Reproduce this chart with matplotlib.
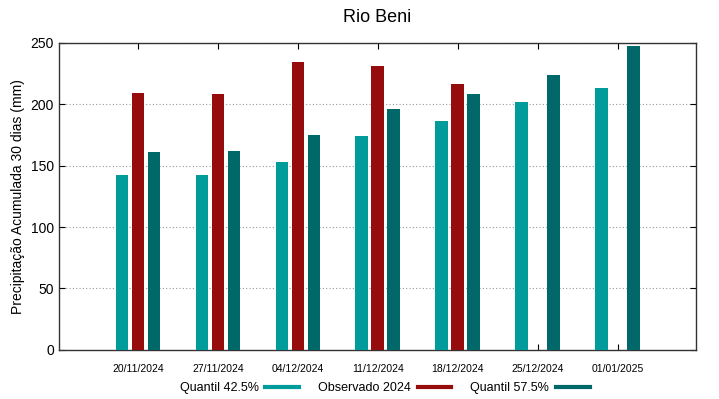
import numpy as np
import matplotlib
matplotlib.use('Agg')
import matplotlib.pyplot as plt
from matplotlib.lines import Line2D

plt.rcParams['font.family'] = ['Liberation Sans', 'DejaVu Sans']

# data
datas = ['20/11/2024', '27/11/2024', '04/12/2024', '11/12/2024',
         '18/12/2024', '25/12/2024', '01/01/2025']
q425 = [142, 142, 153, 174, 186, 202, 213]
obs2024 = [209, 208, 234, 231, 216, np.nan, np.nan]
q575 = [161, 162, 175, 196, 208, 224, 247]

c_q425 = '#009b9b'
c_obs = '#960c0c'
c_q575 = '#006868'

fig = plt.figure(figsize=(7.19, 3.99), dpi=100)
ax = fig.add_axes([0.082, 0.123, 0.886, 0.770])

x = np.arange(len(datas))
w = 0.16
ax.bar(x - 0.2, q425, w, color=c_q425, zorder=3)
ax.bar(x, obs2024, w, color=c_obs, zorder=3)
ax.bar(x + 0.2, q575, w, color=c_q575, zorder=3)

ax.set_xlim(-0.99, 6.98)
ax.set_ylim(0, 250)
ax.set_yticks([0, 50, 100, 150, 200, 250])
ax.set_xticks(x)
ax.set_xticklabels(datas, fontsize=7.5)
ax.tick_params(axis='y', labelsize=10, direction='in', right=True, length=4)
ax.tick_params(axis='x', direction='in', top=True, length=4, pad=10)
ax.grid(axis='y', linestyle=(0, (1, 2)), color='#999999', linewidth=0.8, zorder=0)
for s in ax.spines.values():
    s.set_linewidth(1.0)
    s.set_color('#333333')

ax.set_ylabel('Precipitação Acumulada 30 dias (mm)', fontsize=10)
ax.set_title('Rio Beni', fontsize=13, pad=15)

handles = [Line2D([], [], color=c, linewidth=3) for c in (c_q425, c_obs, c_q575)]
fig.legend(handles, ['Quantil 42.5%', 'Observado 2024', 'Quantil 57.5%'],
           loc='center', bbox_to_anchor=(0.535, 0.027), ncol=3,
           frameon=False, markerfirst=False, fontsize=9, handlelength=2.7,
           columnspacing=1.5, handletextpad=0.55, borderpad=0)

fig.savefig('out.png', dpi=100)
